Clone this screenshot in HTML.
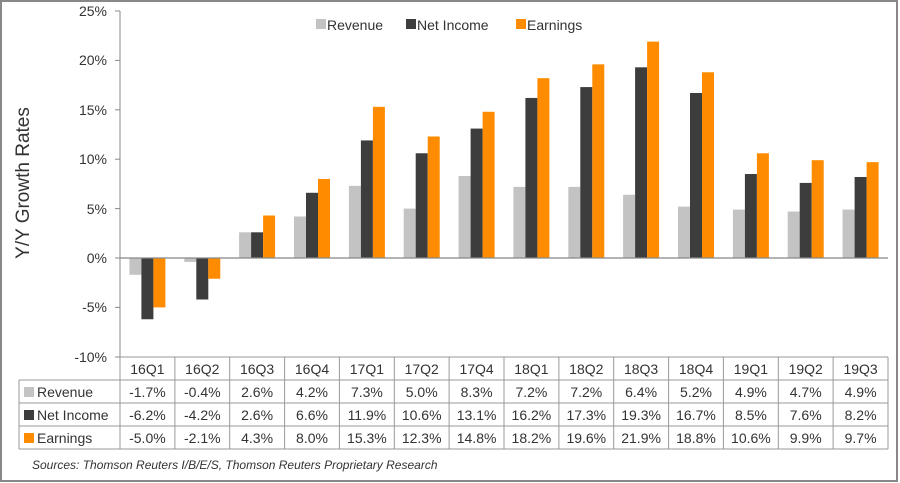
<!DOCTYPE html>
<html><head><meta charset="utf-8"><style>
html,body{margin:0;padding:0;background:#fff}
svg{display:block}
text{font-family:"Liberation Sans",Arial,sans-serif;fill:#333}
</style></head><body>
<svg width="900" height="483" viewBox="0 0 900 483" xmlns="http://www.w3.org/2000/svg">
<rect x="1" y="1" width="896" height="480" fill="#fff" stroke="#888" stroke-width="2"/>
<line x1="120" y1="11" x2="120" y2="357" stroke="#888" stroke-width="1"/>
<g stroke="#888">
<line x1="115" y1="11" x2="120" y2="11"/><line x1="115" y1="60.4" x2="120" y2="60.4"/>
<line x1="115" y1="109.8" x2="120" y2="109.8"/><line x1="115" y1="159.2" x2="120" y2="159.2"/>
<line x1="115" y1="208.6" x2="120" y2="208.6"/><line x1="115" y1="258" x2="120" y2="258"/>
<line x1="115" y1="307.4" x2="120" y2="307.4"/><line x1="115" y1="357" x2="120" y2="357"/>
</g>
<g font-size="14" text-anchor="end">
<text x="107" y="16">25%</text><text x="107" y="65">20%</text><text x="107" y="115">15%</text>
<text x="107" y="164">10%</text><text x="107" y="214">5%</text><text x="107" y="263">0%</text>
<text x="107" y="312">-5%</text><text x="107" y="362">-10%</text>
</g>
<text transform="translate(29,183) rotate(-90)" font-size="19" text-anchor="middle">Y/Y Growth Rates</text>
<rect x="316" y="19" width="10" height="10" fill="#c3c3c3"/><text x="327" y="30" font-size="14">Revenue</text>
<rect x="406" y="19" width="10" height="10" fill="#3d3d3d"/><text x="417" y="30" font-size="14">Net Income</text>
<rect x="516" y="19" width="10" height="10" fill="#ff8c00"/><text x="527" y="30" font-size="14">Earnings</text>
<g transform="translate(0,258) scale(1,-9.88)">
<g fill="#c3c3c3">
<rect x="129.4" y="-1.7" width="12" height="1.7"/><rect x="184.3" y="-0.4" width="12" height="0.4"/>
<rect x="239.1" y="0" width="12" height="2.6"/><rect x="294" y="0" width="12" height="4.2"/>
<rect x="348.9" y="0" width="12" height="7.3"/><rect x="403.7" y="0" width="12" height="5.0"/>
<rect x="458.6" y="0" width="12" height="8.3"/><rect x="513.4" y="0" width="12" height="7.2"/>
<rect x="568.3" y="0" width="12" height="7.2"/><rect x="623.1" y="0" width="12" height="6.4"/>
<rect x="678" y="0" width="12" height="5.2"/><rect x="732.9" y="0" width="12" height="4.9"/>
<rect x="787.7" y="0" width="12" height="4.7"/><rect x="842.6" y="0" width="12" height="4.9"/>
</g>
<g fill="#3d3d3d">
<rect x="141.4" y="-6.2" width="12" height="6.2"/><rect x="196.3" y="-4.2" width="12" height="4.2"/>
<rect x="251.1" y="0" width="12" height="2.6"/><rect x="306" y="0" width="12" height="6.6"/>
<rect x="360.9" y="0" width="12" height="11.9"/><rect x="415.7" y="0" width="12" height="10.6"/>
<rect x="470.6" y="0" width="12" height="13.1"/><rect x="525.4" y="0" width="12" height="16.2"/>
<rect x="580.3" y="0" width="12" height="17.3"/><rect x="635.1" y="0" width="12" height="19.3"/>
<rect x="690" y="0" width="12" height="16.7"/><rect x="744.9" y="0" width="12" height="8.5"/>
<rect x="799.7" y="0" width="12" height="7.6"/><rect x="854.6" y="0" width="12" height="8.2"/>
</g>
<g fill="#ff8c00">
<rect x="153.4" y="-5.0" width="12" height="5.0"/><rect x="208.3" y="-2.1" width="12" height="2.1"/>
<rect x="263.1" y="0" width="12" height="4.3"/><rect x="318" y="0" width="12" height="8.0"/>
<rect x="372.9" y="0" width="12" height="15.3"/><rect x="427.7" y="0" width="12" height="12.3"/>
<rect x="482.6" y="0" width="12" height="14.8"/><rect x="537.4" y="0" width="12" height="18.2"/>
<rect x="592.3" y="0" width="12" height="19.6"/><rect x="647.1" y="0" width="12" height="21.9"/>
<rect x="702" y="0" width="12" height="18.8"/><rect x="756.9" y="0" width="12" height="10.6"/>
<rect x="811.7" y="0" width="12" height="9.9"/><rect x="866.6" y="0" width="12" height="9.7"/>
</g>
</g>
<line x1="120" y1="258" x2="888" y2="258" stroke="#888" stroke-width="1.2"/>
<g stroke="#999" stroke-width="1">
<line x1="120" y1="357" x2="888" y2="357"/>
<line x1="19" y1="380" x2="888" y2="380"/><line x1="19" y1="403" x2="888" y2="403"/>
<line x1="19" y1="426" x2="888" y2="426"/><line x1="19" y1="449" x2="888" y2="449"/>
<line x1="19" y1="380" x2="19" y2="449"/>
<line x1="120" y1="357" x2="120" y2="449"/><line x1="174.9" y1="357" x2="174.9" y2="449"/>
<line x1="229.7" y1="357" x2="229.7" y2="449"/><line x1="284.6" y1="357" x2="284.6" y2="449"/>
<line x1="339.4" y1="357" x2="339.4" y2="449"/><line x1="394.3" y1="357" x2="394.3" y2="449"/>
<line x1="449.1" y1="357" x2="449.1" y2="449"/><line x1="504" y1="357" x2="504" y2="449"/>
<line x1="558.9" y1="357" x2="558.9" y2="449"/><line x1="613.7" y1="357" x2="613.7" y2="449"/>
<line x1="668.6" y1="357" x2="668.6" y2="449"/><line x1="723.4" y1="357" x2="723.4" y2="449"/>
<line x1="778.3" y1="357" x2="778.3" y2="449"/><line x1="833.1" y1="357" x2="833.1" y2="449"/>
<line x1="888" y1="357" x2="888" y2="449"/>
</g>
<rect x="24" y="387" width="10" height="10" fill="#c3c3c3"/><text x="37" y="397" font-size="14">Revenue</text>
<rect x="24" y="410" width="10" height="10" fill="#3d3d3d"/><text x="37" y="420" font-size="14">Net Income</text>
<rect x="24" y="433" width="10" height="10" fill="#ff8c00"/><text x="37" y="443" font-size="14">Earnings</text>
<g font-size="14" text-anchor="middle">
<g transform="translate(0,374)">
<text x="147.4">16Q1</text><text x="202.3">16Q2</text><text x="257.1">16Q3</text><text x="312">16Q4</text><text x="366.9">17Q1</text><text x="421.7">17Q2</text><text x="476.6">17Q4</text><text x="531.4">18Q1</text><text x="586.3">18Q2</text><text x="641.1">18Q3</text><text x="696">18Q4</text><text x="750.9">19Q1</text><text x="805.7">19Q2</text><text x="860.6">19Q3</text>
</g>
<g transform="translate(0,397)">
<text x="147.4">-1.7%</text><text x="202.3">-0.4%</text><text x="257.1">2.6%</text><text x="312">4.2%</text><text x="366.9">7.3%</text><text x="421.7">5.0%</text><text x="476.6">8.3%</text><text x="531.4">7.2%</text><text x="586.3">7.2%</text><text x="641.1">6.4%</text><text x="696">5.2%</text><text x="750.9">4.9%</text><text x="805.7">4.7%</text><text x="860.6">4.9%</text>
</g>
<g transform="translate(0,420)">
<text x="147.4">-6.2%</text><text x="202.3">-4.2%</text><text x="257.1">2.6%</text><text x="312">6.6%</text><text x="366.9">11.9%</text><text x="421.7">10.6%</text><text x="476.6">13.1%</text><text x="531.4">16.2%</text><text x="586.3">17.3%</text><text x="641.1">19.3%</text><text x="696">16.7%</text><text x="750.9">8.5%</text><text x="805.7">7.6%</text><text x="860.6">8.2%</text>
</g>
<g transform="translate(0,443)">
<text x="147.4">-5.0%</text><text x="202.3">-2.1%</text><text x="257.1">4.3%</text><text x="312">8.0%</text><text x="366.9">15.3%</text><text x="421.7">12.3%</text><text x="476.6">14.8%</text><text x="531.4">18.2%</text><text x="586.3">19.6%</text><text x="641.1">21.9%</text><text x="696">18.8%</text><text x="750.9">10.6%</text><text x="805.7">9.9%</text><text x="860.6">9.7%</text>
</g>
</g>
<text x="32" y="469" font-size="12" font-style="italic">Sources: Thomson Reuters I/B/E/S, Thomson Reuters Proprietary Research</text>
</svg>
</body></html>
